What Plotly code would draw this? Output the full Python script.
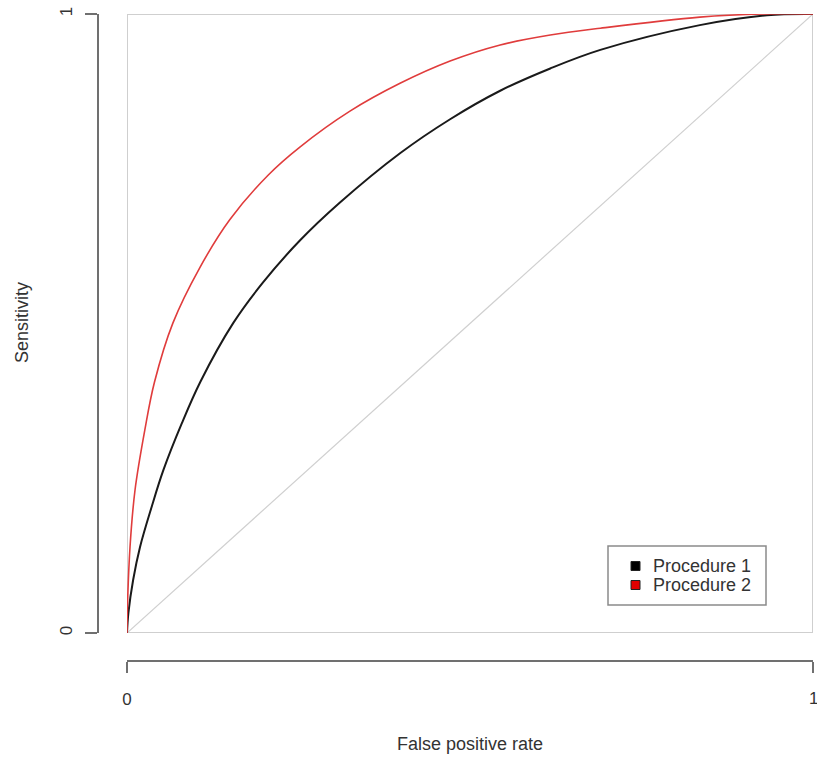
import plotly.graph_objects as go

# ---- data ----
fpr_p1 = [0, 0.002, 0.009, 0.019, 0.036, 0.053, 0.080, 0.107, 0.155, 0.198, 0.252, 0.310, 0.398, 0.471, 0.544, 0.617, 0.690, 0.835, 0.933, 1.0]
sens_p1 = [0, 0.032, 0.086, 0.139, 0.204, 0.263, 0.339, 0.406, 0.501, 0.566, 0.634, 0.695, 0.775, 0.830, 0.876, 0.912, 0.942, 0.982, 0.998, 1.0]

fpr_p2 = [0, 0.0004, 0.0044, 0.0117, 0.026, 0.040, 0.067, 0.106, 0.150, 0.206, 0.252, 0.325, 0.398, 0.471, 0.544, 0.617, 0.690, 0.835, 0.927, 1.0]
sens_p2 = [0, 0.032, 0.139, 0.231, 0.328, 0.405, 0.501, 0.590, 0.668, 0.740, 0.785, 0.843, 0.888, 0.924, 0.950, 0.966, 0.977, 0.995, 1.0, 1.0]

ref_x = [0, 1]
ref_y = [0, 1]

series_names = ["Procedure 1", "Procedure 2"]
series_colors = ["#1a1a1a", "#e03c3c"]
legend_fill = ["#000000", "#e00000"]
tick_vals = [0, 1]
tick_text = ["0", "1"]

# ---- layout geometry (pixels) ----
W, H = 817, 757
L, R, T, B = 98, 813, 14, 661
PLOT_L, PLOT_B = 127, 633


def px(x):
    return (x - L) / (R - L)


def py(y):
    return (B - y) / (B - T)


FONT = "Liberation Sans, Arial, sans-serif"
TXT = "#333333"
AX = "#707070"

fig = go.Figure()

fig.add_trace(go.Scatter(x=ref_x, y=ref_y, mode="lines",
                         line=dict(color="#d0d0d0", width=1.2),
                         showlegend=False, hoverinfo="skip"))
fig.add_trace(go.Scatter(x=fpr_p1, y=sens_p1, mode="lines", name=series_names[0],
                         line=dict(color=series_colors[0], width=2, shape="spline", smoothing=1.0),
                         showlegend=False))
fig.add_trace(go.Scatter(x=fpr_p2, y=sens_p2, mode="lines", name=series_names[1],
                         line=dict(color=series_colors[1], width=1.6, shape="spline", smoothing=1.0),
                         showlegend=False))

shapes = []
# plot box
shapes.append(dict(type="rect", xref="x", yref="y", x0=0, y0=0, x1=1, y1=1,
                   line=dict(color="#cfcfcf", width=2), layer="below"))

# legend (manual, R style)
lx0, lx1, ly0, ly1 = 608, 766, 546, 605
shapes.append(dict(type="rect", xref="paper", yref="paper",
                   x0=px(lx0), x1=px(lx1), y0=py(ly1), y1=py(ly0),
                   line=dict(color="#8a8a8a", width=1.5), fillcolor="white"))
annotations = []
row_y = [566, 585]
for i, name in enumerate(series_names):
    cy = row_y[i]
    shapes.append(dict(type="rect", xref="paper", yref="paper",
                       x0=px(631), x1=px(640), y0=py(cy + 4.5), y1=py(cy - 4.5),
                       line=dict(color="#222222", width=1), fillcolor=legend_fill[i]))
    annotations.append(dict(x=px(651), y=py(cy), xref="paper", yref="paper",
                            text=name, showarrow=False, xanchor="left", yanchor="middle",
                            font=dict(family=FONT, size=18, color=TXT)))

# x tick label "1" at the right edge (plotly drops it because it overflows the page)
annotations.append(dict(x=1, y=py(698), xref="x", yref="paper",
                        text=tick_text[1], showarrow=False,
                        xanchor="center", yanchor="middle",
                        font=dict(family=FONT, size=17, color=TXT)))

# axis titles
annotations.append(dict(x=px((PLOT_L + 813) / 2), y=py(744), xref="paper", yref="paper",
                        text="False positive rate", showarrow=False,
                        xanchor="center", yanchor="middle",
                        font=dict(family=FONT, size=18, color=TXT)))
annotations.append(dict(x=px(22), y=py(323), xref="paper", yref="paper",
                        text="Sensitivity", showarrow=False, textangle=-90,
                        xanchor="center", yanchor="middle",
                        font=dict(family=FONT, size=18, color=TXT)))

fig.update_layout(
    width=W, height=H,
    margin=dict(l=L, r=W - R, t=T, b=H - B, pad=0, autoexpand=False),
    plot_bgcolor="white", paper_bgcolor="white",
    shapes=shapes, annotations=annotations,
    showlegend=False,
    xaxis=dict(domain=[(PLOT_L - L) / (R - L), 1], range=[0, 1],
               anchor="free", position=0, automargin=False,
               showgrid=False, zeroline=False,
               showline=True, linecolor=AX, linewidth=2,
               ticks="outside", ticklen=11, tickwidth=2, tickcolor=AX,
               tickvals=tick_vals, ticktext=tick_text,
               ticklabelstandoff=12,
               tickfont=dict(family=FONT, size=17, color=TXT)),
    yaxis=dict(domain=[(B - PLOT_B) / (B - T), 1], range=[0, 1],
               anchor="free", position=0, automargin=False,
               showgrid=False, zeroline=False,
               showline=True, linecolor=AX, linewidth=2,
               ticks="outside", ticklen=12, tickwidth=2, tickcolor=AX,
               tickvals=tick_vals, ticktext=tick_text, tickangle=-90,
               ticklabelstandoff=6,
               tickfont=dict(family=FONT, size=17, color=TXT)),
)

fig.write_html("out.html", config={"displayModeBar": False},
               post_script="document.body.style.margin='0';document.body.style.overflow='hidden';")
